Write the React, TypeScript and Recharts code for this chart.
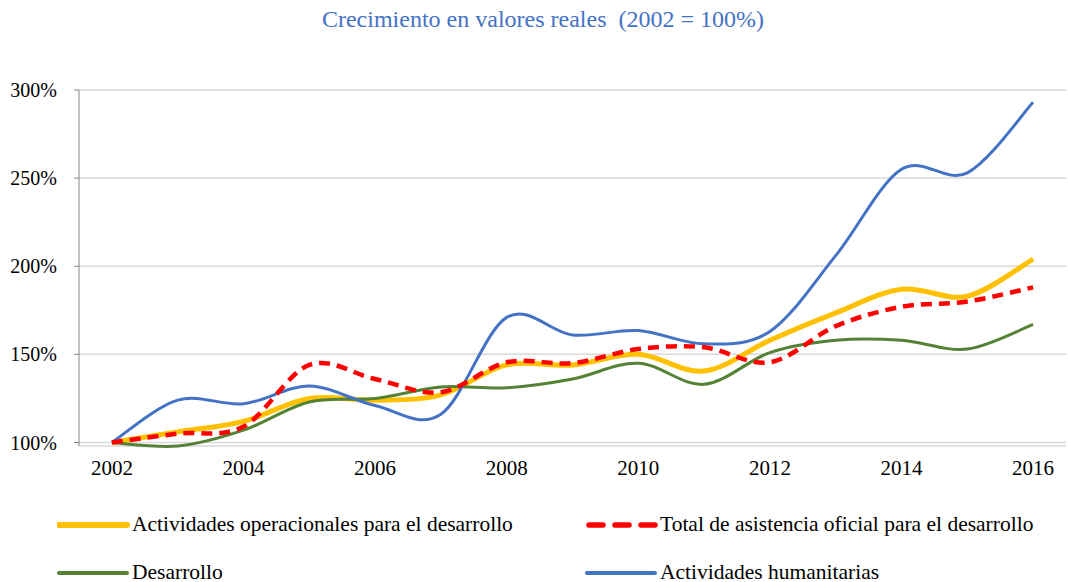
import React from 'react';
import { LineChart, Line, XAxis, YAxis, CartesianGrid } from 'recharts';

const years = [2002, 2003, 2004, 2005, 2006, 2007, 2008, 2009, 2010, 2011, 2012, 2013, 2014, 2015, 2016];
const operacionales = [100, 106, 112, 125, 124, 127, 144, 144, 150, 140.5, 158, 173.5, 187, 183, 204];
const totalAod = [100, 105, 109, 144, 136, 128.5, 145.5, 145, 153, 154, 145.5, 166, 177, 180, 188];
const desarrollo = [100, 98, 107, 123, 125, 131.5, 131, 136, 145, 133, 151, 158, 158, 153, 167];
const humanitarias = [100, 124, 122, 132, 121, 116, 171, 161, 163.5, 156, 163, 206, 255, 253, 293];

const yTicks = [100, 150, 200, 250, 300];
const yearLabels = [2002, 2004, 2006, 2008, 2010, 2012, 2014, 2016];
const boundaries = [...years.map(y => y - 0.5), 2016.5];

const data = years.map((year, i) => ({
  year,
  operacionales: operacionales[i],
  totalAod: totalAod[i],
  desarrollo: desarrollo[i],
  humanitarias: humanitarias[i],
}));

const FONT = 'Liberation Serif, Times New Roman, serif';

// Catmull-Rom smoothing, close to Excel's "smoothed line"
const smooth = (context: any) => {
  let pts: number[][] = [];
  return {
    areaStart() {},
    areaEnd() {},
    lineStart() { pts = []; },
    point(x: number, y: number) { pts.push([+x, +y]); },
    lineEnd() {
      const n = pts.length;
      if (!n) return;
      context.moveTo(pts[0][0], pts[0][1]);
      for (let i = 0; i < n - 1; i++) {
        const p0 = pts[Math.max(i - 1, 0)];
        const p1 = pts[i];
        const p2 = pts[i + 1];
        const p3 = pts[Math.min(i + 2, n - 1)];
        context.bezierCurveTo(
          p1[0] + (p2[0] - p0[0]) / 6, p1[1] + (p2[1] - p0[1]) / 6,
          p2[0] - (p3[0] - p1[0]) / 6, p2[1] - (p3[1] - p1[1]) / 6,
          p2[0], p2[1],
        );
      }
    },
  };
};

const series = [
  { key: 'operacionales', name: 'Actividades operacionales para el desarrollo', color: '#FFC000', width: 5, dash: undefined },
  { key: 'desarrollo', name: 'Desarrollo', color: '#548235', width: 3, dash: undefined },
  { key: 'humanitarias', name: 'Actividades humanitarias', color: '#4472C4', width: 3, dash: undefined },
  { key: 'totalAod', name: 'Total de asistencia oficial para el desarrollo', color: '#FF0000', width: 4.5, dash: '11 7' },
];

const legendItems = [
  { ...series[0], left: 57, top: 512 },
  { ...series[3], left: 585, top: 512 },
  { ...series[1], left: 57, top: 560 },
  { ...series[2], left: 585, top: 560 },
];

const App = () => {
  return (
    <div style={{ position: 'absolute', left: 0, top: 0, width: 1068, height: 582, background: '#fff', fontFamily: FONT }}>
      <div style={{ position: 'absolute', top: 6, left: 0, width: 1086, textAlign: 'center', color: '#4472C4', fontSize: 24 }}>
        Crecimiento en valores reales&nbsp;&nbsp;(2002 = 100%)
      </div>
      <LineChart width={1068} height={582} data={data} margin={{ top: 90, right: 2, bottom: 106, left: 19 }}>
        <CartesianGrid xAxisId="year" vertical={false} stroke="#D9D9D9" strokeWidth={1.5} />
        <XAxis
          xAxisId="bounds"
          dataKey="year"
          type="number"
          domain={[2001.5, 2016.5]}
          ticks={boundaries}
          allowDataOverflow
          height={0}
          tickSize={5}
          tickFormatter={() => ''}
          stroke="#868686"
        />
        <XAxis
          xAxisId="year"
          dataKey="year"
          type="number"
          domain={[2001.5, 2016.5]}
          ticks={yearLabels}
          allowDataOverflow
          height={30}
          axisLine={false}
          tickLine={false}
          tickSize={6}
          tickMargin={8}
          interval={0}
          tick={{ fill: '#000', fontSize: 21, fontFamily: FONT }}
        />
        <YAxis
          domain={[100, 300]}
          ticks={yTicks}
          width={60}
          tickSize={5}
          tickMargin={17}
          stroke="#868686"
          tickFormatter={(v: number) => `${v}%`}
          tick={{ fill: '#000', fontSize: 20, fontFamily: FONT }}
        />
        {series.map(s => (
          <Line
            key={s.key}
            xAxisId="year"
            dataKey={s.key}
            name={s.name}
            type={smooth as any}
            stroke={s.color}
            strokeWidth={s.width}
            strokeDasharray={s.dash}
            dot={false}
            activeDot={false}
            isAnimationActive={false}
          />
        ))}
      </LineChart>
      {legendItems.map(item => (
        <div key={item.key} style={{ position: 'absolute', left: item.left, top: item.top, display: 'flex', alignItems: 'center', fontSize: 21.5, color: '#000', whiteSpace: 'nowrap' }}>
          <svg width={75} height={24}>
            <line
              x1={item.dash ? 4 : 2}
              y1={12}
              x2={70}
              y2={12}
              stroke={item.color}
              strokeWidth={item.width + 1}
              strokeLinecap="round"
              strokeDasharray={item.dash ? '14 12' : undefined}
            />
          </svg>
          <span>{item.name}</span>
        </div>
      ))}
    </div>
  );
};

export default App;
